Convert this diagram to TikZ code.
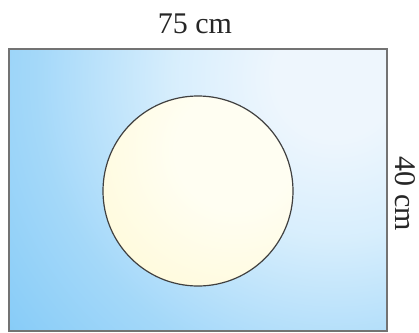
\documentclass[tikz,border=0pt]{standalone}
\usepackage{fontspec}
\setmainfont{Liberation Serif}
\definecolor{sky}{RGB}{98,188,245}
\definecolor{cream}{RGB}{255,248,206}
\definecolor{paleglow}{RGB}{238,246,253}
\definecolor{creamglow}{RGB}{255,254,242}
\pgfdeclareradialshading{rectglow}{\pgfpointorigin}{color(0bp)=(paleglow); color(3bp)=(paleglow); color(8bp)=(sky!25!white); color(15bp)=(sky!58!white); color(23bp)=(sky!84!white); color(32bp)=(sky); color(50bp)=(sky)}
\pgfdeclareradialshading{discglow}{\pgfpointorigin}{color(0bp)=(creamglow); color(6bp)=(creamglow); color(22bp)=(cream); color(50bp)=(cream)}
\tikzset{
  dimlabel/.style={font=\fontsize{30bp}{32bp}\selectfont, text=black!85, inner sep=0pt},
  frameline/.style={line width=1.5bp, draw=black!55},
  discline/.style={line width=1.2bp, draw=black!75}
}
\begin{document}
\begin{tikzpicture}[x=1bp,y=-1bp]
\useasboundingbox (0,0) rectangle (419,333);
\coordinate (nw) at (9,49);
\coordinate (se) at (387,331);
\coordinate (c) at (198,191);
\begin{scope}
  \clip (nw) rectangle (se);
  \fill[sky] (nw) rectangle (se);
  \shade[shading=rectglow] (335,78) circle[radius=500];
\end{scope}
\begin{scope}
  \clip (c) circle[radius=95];
  \fill[cream] (c) circle[radius=95];
  \shade[shading=discglow] (235,150) circle[radius=250];
\end{scope}
\draw[discline] (c) circle[radius=95];
\draw[frameline] (nw) rectangle (se);
\node[dimlabel] (top) at (195,24) {75 cm};
\node[dimlabel, rotate=-90] (side) at (405,194) {40 cm};
\end{tikzpicture}
\end{document}
